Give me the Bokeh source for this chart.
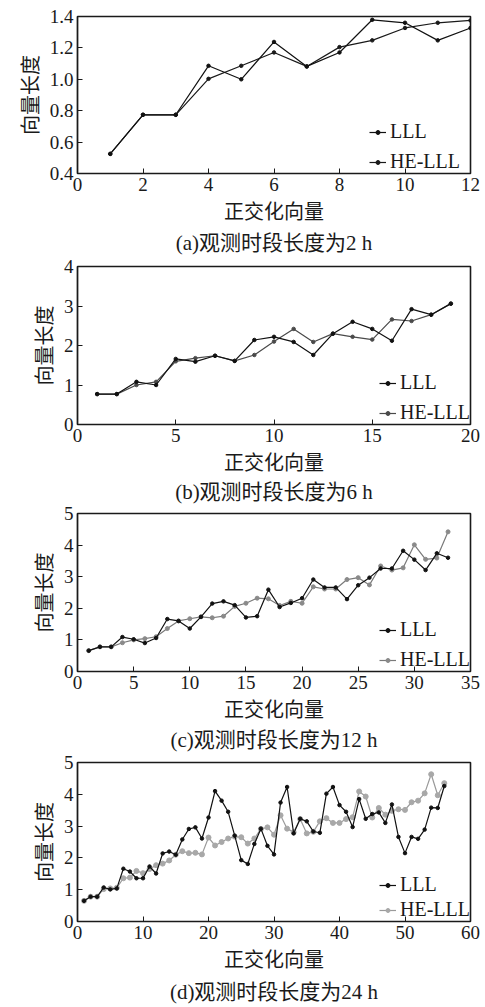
from bokeh.plotting import figure
from bokeh.layouts import column
from bokeh.models import Range1d, FixedTicker, Title, Legend, LegendItem
from bokeh.embed import file_html
from bokeh.resources import INLINE

# ---------------- data ----------------
# (a) observation span 2 h
a_x = list(range(1, 13))
a_lll = [0.525, 0.774, 0.774, 1.086, 1.000, 1.238, 1.082, 1.171, 1.379, 1.360, 1.248, 1.327]
a_he = [0.525, 0.774, 0.774, 1.003, 1.086, 1.171, 1.082, 1.205, 1.248, 1.327, 1.360, 1.375]
a_xticks = [0, 2, 4, 6, 8, 10, 12]
a_yticks = [0.4, 0.6, 0.8, 1.0, 1.2, 1.4]
a_ylabels = ["0.4", "0.6", "0.8", "1.0", "1.2", "1.4"]

# (b) observation span 6 h
b_x = list(range(1, 20))
b_lll = [0.77, 0.77, 1.08, 1.00, 1.66, 1.59, 1.74, 1.61, 2.14, 2.22, 2.09, 1.76, 2.30,
         2.60, 2.42, 2.12, 2.92, 2.78, 3.06]
b_he = [0.77, 0.77, 1.00, 1.08, 1.60, 1.68, 1.74, 1.61, 1.76, 2.10, 2.42, 2.09, 2.30,
        2.22, 2.15, 2.66, 2.62, 2.78, 3.06]
b_xticks = [0, 5, 10, 15, 20]
b_yticks = [0, 1, 2, 3, 4]
b_ylabels = ["0", "1", "2", "3", "4"]

# (c) observation span 12 h
c_x = list(range(1, 34))
c_lll = [0.66, 0.78, 0.78, 1.09, 1.02, 0.90, 1.06, 1.66, 1.60, 1.36, 1.73, 2.15, 2.22,
         2.10, 1.71, 1.75, 2.59, 2.04, 2.17, 2.32, 2.91, 2.66, 2.66, 2.29, 2.73, 2.97,
         3.26, 3.26, 3.82, 3.54, 3.21, 3.74, 3.60]
c_he = [0.66, 0.78, 0.78, 0.91, 1.00, 1.04, 1.10, 1.36, 1.60, 1.67, 1.73, 1.70, 1.75,
        2.06, 2.16, 2.32, 2.30, 2.09, 2.22, 2.16, 2.68, 2.61, 2.61, 2.91, 2.97, 2.74,
        3.34, 3.21, 3.28, 4.01, 3.55, 3.59, 4.42]
c_xticks = [0, 5, 10, 15, 20, 25, 30, 35]
c_yticks = [0, 1, 2, 3, 4, 5]
c_ylabels = ["0", "1", "2", "3", "4", "5"]

# (d) observation span 24 h
d_x = list(range(1, 57))
d_lll = [0.65, 0.78, 0.78, 1.07, 1.01, 1.04, 1.66, 1.57, 1.36, 1.36, 1.73, 1.51, 2.14,
         2.20, 2.10, 2.58, 2.91, 2.96, 2.61, 3.27, 4.10, 3.80, 3.45, 2.70, 1.93, 1.81,
         2.44, 2.92, 2.38, 2.11, 3.74, 4.23, 2.77, 3.23, 3.15, 2.83, 2.79, 4.02, 4.23,
         3.66, 3.45, 2.97, 3.85, 3.23, 3.38, 3.43, 3.10, 3.68, 2.66, 2.15, 2.66, 2.60,
         2.89, 3.58, 3.57, 4.26]
d_he = [0.65, 0.78, 0.78, 1.02, 1.04, 1.06, 1.36, 1.38, 1.59, 1.52, 1.65, 1.77, 1.82,
        1.92, 2.10, 2.21, 2.15, 2.16, 2.11, 2.64, 2.39, 2.50, 2.61, 2.67, 2.65, 2.45,
        2.61, 2.91, 2.96, 2.73, 3.34, 2.92, 2.81, 3.22, 2.77, 2.82, 3.15, 3.25, 3.10,
        3.10, 3.22, 3.28, 4.09, 3.93, 3.27, 3.57, 3.36, 3.48, 3.53, 3.51, 3.75, 3.80,
        4.03, 4.63, 3.97, 4.35]
d_xticks = [0, 10, 20, 30, 40, 50, 60]
d_yticks = [0, 1, 2, 3, 4, 5]
d_ylabels = ["0", "1", "2", "3", "4", "5"]

x_title = "正交化向量"
y_title = "向量长度"
series_names = ["LLL", "HE-LLL"]
captions = ["(a)观测时段长度为2 h", "(b)观测时段长度为6 h",
            "(c)观测时段长度为12 h", "(d)观测时段长度为24 h"]

SERIF = "Liberation Serif"
MIXED = "'Liberation Serif', 'Noto Sans CJK SC'"
INK = "#1a1a1a"
W = 482


def make_panel(xs, lll, he, xticks, yticks, ylabels, caption,
               he_color, he_mcolor, he_msize, height, top, left, right, bottom,
               leg_label_width, leg_spacing, leg_padding, title_standoff):
    p = figure(width=W, height=height, output_backend="svg", toolbar_location=None,
               x_range=Range1d(xticks[0], xticks[-1]),
               y_range=Range1d(yticks[0], yticks[-1]))
    p.min_border_top = top
    p.min_border_left = left
    p.min_border_right = right
    p.min_border_bottom = bottom
    p.background_fill_color = "white"
    p.border_fill_color = "white"
    p.outline_line_color = INK
    p.outline_line_width = 1.6
    p.xgrid.visible = False
    p.ygrid.visible = False

    for ax in (p.xaxis[0], p.yaxis[0]):
        ax.major_tick_in = 5
        ax.major_tick_out = 0
        ax.minor_tick_line_color = None
        ax.major_tick_line_color = INK
        ax.axis_line_color = INK
        ax.axis_line_width = 1.2
        ax.major_label_text_font = SERIF
        ax.major_label_text_font_size = "19px"
        ax.major_label_text_color = INK
        ax.axis_label_text_font = MIXED
        ax.axis_label_text_font_size = "20px"
        ax.axis_label_text_font_style = "normal"
        ax.axis_label_text_color = INK

    p.xaxis.ticker = FixedTicker(ticks=xticks)
    p.yaxis.ticker = FixedTicker(ticks=yticks)
    p.yaxis.major_label_overrides = {v: s for v, s in zip(yticks, ylabels)}
    p.xaxis.axis_label = x_title
    p.yaxis.axis_label = y_title
    p.xaxis.major_label_standoff = 4
    p.yaxis.major_label_standoff = 4
    p.xaxis.axis_label_standoff = 7
    p.yaxis.axis_label_standoff = 5

    l2 = p.line(xs, he, line_color=he_color, line_width=1.2)
    s2 = p.scatter(xs, he, size=he_msize, fill_color=he_mcolor, line_color=he_mcolor)
    l1 = p.line(xs, lll, line_color="#111111", line_width=1.2)
    s1 = p.scatter(xs, lll, size=3.5, fill_color="#111111", line_color="#111111")

    leg = Legend(items=[LegendItem(label=series_names[0], renderers=[l1, s1]),
                        LegendItem(label=series_names[1], renderers=[l2, s2])],
                 location="bottom_right")
    leg.border_line_color = None
    leg.background_fill_alpha = 0
    leg.label_text_font = SERIF
    leg.label_text_font_size = "20px"
    leg.label_text_color = INK
    leg.glyph_width = 17
    leg.glyph_height = 10
    leg.label_height = 20
    leg.label_standoff = 4
    leg.label_width = leg_label_width
    leg.spacing = leg_spacing
    leg.padding = leg_padding
    leg.margin = 0
    p.add_layout(leg)

    t = Title(text=caption, align="center", text_font=MIXED, text_font_size="21px",
              text_font_style="normal", text_color=INK, standoff=title_standoff)
    p.add_layout(t, "below")
    return p


pa = make_panel(a_x, a_lll, a_he, a_xticks, a_yticks, a_ylabels, captions[0],
                "#1a1a1a", "#1a1a1a", 3.5, 257, 16, 69, W - 470, 81, 80, 7, 3, 6)
pb = make_panel(b_x, b_lll, b_he, b_xticks, b_yticks, b_ylabels, captions[1],
                "#4a4a4a", "#4a4a4a", 3.5, 247, 9, 72, W - 471, 77, 70, 7, 10, 2)
pc = make_panel(c_x, c_lll, c_he, c_xticks, c_yticks, c_ylabels, captions[2],
                "#7a7a7a", "#8a8a8a", 4, 249, 9, 73, W - 471, 79, 70, 7, 7, 4)
pd = make_panel(d_x, d_lll, d_he, d_xticks, d_yticks, d_ylabels, captions[3],
                "#9a9a9a", "#a8a8a8", 5, 254, 9, 77, W - 473, 84, 70, 2, 7, 8)

layout = column(pa, pb, pc, pd, spacing=0)
open("out.html", "w").write(file_html(layout, INLINE))
